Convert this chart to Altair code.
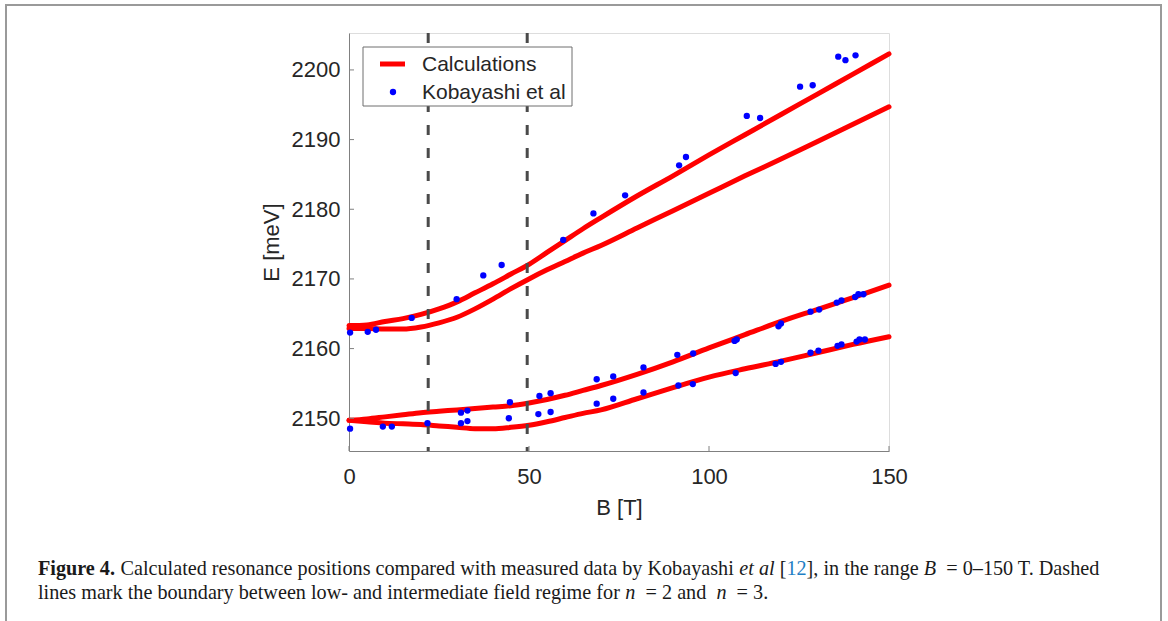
import altair as alt
import pandas as pd

# ---------------- data ----------------
B_GRID = [0, 5, 10, 15, 20, 25, 30, 35, 40, 45, 50, 55, 60, 65, 70, 80, 90, 100, 110, 120, 130, 140, 150]
CALC_N3_UPPER = [2163.3, 2163.4, 2163.9, 2164.3, 2164.9, 2165.7, 2166.7, 2168.0, 2169.3, 2170.7, 2172.1,
                 2173.8, 2175.5, 2177.2, 2178.8, 2181.9, 2184.8, 2187.8, 2190.7, 2193.6, 2196.5, 2199.4, 2202.3]
CALC_N3_LOWER = [2162.9, 2162.9, 2162.8, 2162.8, 2163.1, 2163.7, 2164.5, 2165.7, 2167.1, 2168.6, 2170.0,
                 2171.3, 2172.5, 2173.7, 2174.8, 2177.3, 2179.8, 2182.3, 2184.8, 2187.2, 2189.7, 2192.2, 2194.7]
CALC_N2_UPPER = [2149.7, 2149.9, 2150.2, 2150.5, 2150.8, 2151.0, 2151.2, 2151.4, 2151.6, 2151.8, 2152.2,
                 2152.7, 2153.3, 2154.0, 2154.7, 2156.3, 2158.1, 2160.1, 2162.0, 2163.9, 2165.6, 2167.3, 2169.1]
CALC_N2_LOWER = [2149.7, 2149.5, 2149.3, 2149.2, 2149.1, 2148.9, 2148.7, 2148.5, 2148.5, 2148.7, 2149.0,
                 2149.5, 2150.1, 2150.7, 2151.2, 2152.8, 2154.4, 2155.9, 2157.1, 2158.2, 2159.4, 2160.6, 2161.7]

KOB_B = [0.3, 5.2, 7.5, 17.4, 29.9, 37.3, 42.4, 59.5, 67.9, 76.7, 91.7, 93.6, 110.5, 114.2, 125.3, 128.8,
         135.9, 137.9, 140.7,
         0.3, 9.4, 11.9, 21.8, 31.1, 32.9, 31.1, 32.9, 44.7, 44.4, 52.9, 56.0, 52.6, 56.0, 68.8, 73.4, 68.8,
         73.4, 81.8, 81.8, 91.2, 95.6, 91.5, 95.5, 107.1, 107.7, 107.4, 119.3, 120.0, 118.5, 120.0, 128.2,
         130.6, 128.2, 130.4, 135.5, 136.8, 135.7, 136.8, 140.6, 141.5, 142.9, 141.0, 141.8, 143.3]
KOB_E = [2162.3, 2162.4, 2162.7, 2164.4, 2167.1, 2170.5, 2172.0, 2175.6, 2179.4, 2182.0, 2186.3, 2187.5,
         2193.4, 2193.1, 2197.6, 2197.8, 2201.9, 2201.4, 2202.1,
         2148.5, 2148.8, 2148.8, 2149.3, 2150.8, 2151.1, 2149.3, 2149.6, 2152.3, 2150.0, 2153.2, 2153.6,
         2150.6, 2150.9, 2155.6, 2156.0, 2152.1, 2152.8, 2157.3, 2153.7, 2159.1, 2159.3, 2154.7, 2154.9,
         2161.1, 2161.3, 2156.5, 2163.2, 2163.6, 2157.8, 2158.1, 2165.3, 2165.6, 2159.4, 2159.7, 2166.6,
         2166.9, 2160.4, 2160.6, 2167.4, 2167.8, 2167.8, 2161.0, 2161.3, 2161.3]

BOUNDARIES = [22, 49.5]
X_TICKS = [0, 50, 100, 150]
Y_TICKS = [2150, 2160, 2170, 2180, 2190, 2200]
SERIES = ["Calculations", "Kobayashi et al"]

CAPTION_LINE1 = [("Figure 4.", "bold"),
                 (" Calculated resonance positions compared with measured data by Kobayashi ", "normal"),
                 ("et al", "italic"), (" [", "normal"), ("12", "link"), ("], in the range ", "normal"),
                 ("B", "italic"), ("  =  0–150 T. Dashed", "normal")]
CAPTION_LINE2 = [("lines mark the boundary between low- and intermediate field regime for ", "normal"),
                 ("n", "italic"), ("  =  2 and ", "normal"), ("n", "italic"), ("  =  3.", "normal")]

# ---------------- layout helpers ----------------
W, H = 540, 418
LEFT, TOP = 349, 33
CAP_SIZE = 20.2
SERIF = "Liberation Serif"
SANS = "Liberation Sans"
TXT = "#262626"
RED, BLUE = "#ff0000", "#0000ff"

TR = {' ': 250, 'a': 444, 'b': 500, 'c': 444, 'd': 500, 'e': 444, 'f': 333, 'g': 500, 'h': 500, 'i': 278,
      'j': 278, 'k': 500, 'l': 278, 'm': 778, 'n': 500, 'o': 500, 'p': 500, 'q': 500, 'r': 333, 's': 389,
      't': 278, 'u': 500, 'v': 500, 'w': 722, 'x': 500, 'y': 500, 'z': 444, 'C': 667, 'K': 722, 'T': 611,
      'D': 722, 'B': 667, '[': 333, ']': 333, ',': 250, '.': 250, '-': 333, '=': 564, '–': 500}
TB = {'F': 611, 'i': 278, 'g': 500, 'u': 556, 'r': 444, 'e': 444, ' ': 250, '.': 250}
TI = {'e': 444, 't': 278, ' ': 250, 'a': 500, 'l': 278, 'B': 611, 'n': 500}


def seg_width(text, style):
    table = TB if style == "bold" else TI if style == "italic" else TR
    return sum(table.get(ch, 500) for ch in text) * CAP_SIZE / 1000.0


def px(x, y):
    """page pixel -> encoding relative to the plot origin"""
    return dict(x=alt.value(x - LEFT), y=alt.value(y - TOP))


# ---------------- chart data frames ----------------
curves = {"n3_upper": CALC_N3_UPPER, "n3_lower": CALC_N3_LOWER,
          "n2_upper": CALC_N2_UPPER, "n2_lower": CALC_N2_LOWER}
rows = []
for name, vals in curves.items():
    for b, e in zip(B_GRID, vals):
        rows.append({"B": b, "E": e, "curve": name})
calc_df = pd.DataFrame(rows)
kob_df = pd.DataFrame({"B": KOB_B, "E": KOB_E})

xscale = alt.Scale(domain=[0, 150], nice=False, zero=False)
yscale = alt.Scale(domain=[2145.3, 2205.3], nice=False, zero=False)

x_axis = alt.Axis(values=X_TICKS, ticks=False, grid=False, domainColor="#808080", labelFont=SANS,
                  labelFontSize=22, labelColor=TXT, labelPadding=15, labelFlush=False, title="B [T]",
                  titleFont=SANS, titleFontSize=22, titleFontWeight="normal", titleColor=TXT, titlePadding=10)
y_axis = alt.Axis(values=Y_TICKS, format="d", ticks=False, grid=False, domainColor="#808080",
                  labelFont=SANS, labelFontSize=22, labelColor=TXT, labelPadding=9, labelOverlap=False,
                  title="E [meV]", titleFont=SANS, titleFontSize=22, titleFontWeight="normal",
                  titleColor=TXT, titlePadding=8)

lines = alt.Chart(calc_df).mark_line(strokeWidth=5, strokeCap="round", interpolate="monotone",
                                     color=RED).encode(
    x=alt.X("B:Q", scale=xscale, axis=x_axis),
    y=alt.Y("E:Q", scale=yscale, axis=y_axis),
    detail="curve:N",
)

dashes = alt.Chart(pd.DataFrame({"B": BOUNDARIES})).mark_rule(
    strokeDash=[10, 13], strokeWidth=3, color="#4a4a4a").encode(x=alt.X("B:Q", scale=xscale))

points = alt.Chart(kob_df).mark_point(filled=True, size=40, opacity=1, color=BLUE).encode(
    x=alt.X("B:Q", scale=xscale), y=alt.Y("E:Q", scale=yscale))

xticks = alt.Chart(pd.DataFrame({"B": X_TICKS})).mark_rule(color="#808080", strokeWidth=1).encode(
    x=alt.X("B:Q", scale=xscale), y=alt.value(H), y2=alt.value(H - 5))
yticks = alt.Chart(pd.DataFrame({"E": Y_TICKS})).mark_rule(color="#808080", strokeWidth=1).encode(
    y=alt.Y("E:Q", scale=yscale), x=alt.value(0), x2=alt.value(5))

one = pd.DataFrame({"k": [0]})
border = alt.Chart(one).mark_rect(fill=None, stroke="#9a9a9a", strokeWidth=2).encode(
    x=alt.value(6 - LEFT), x2=alt.value(1161 - LEFT), y=alt.value(5 - TOP), y2=alt.value(640 - TOP))

# ---- legend (drawn as marks) ----
leg_box = alt.Chart(one).mark_rect(fill="white", stroke="#6e6e6e", strokeWidth=1).encode(
    x=alt.value(363 - LEFT), x2=alt.value(572 - LEFT), y=alt.value(47 - TOP), y2=alt.value(106 - TOP))
leg_line = alt.Chart(one).mark_rule(color=RED, strokeWidth=5).encode(
    x=alt.value(380 - LEFT), x2=alt.value(405 - LEFT), y=alt.value(64 - TOP))
leg_dot = alt.Chart(one).mark_point(filled=True, size=40, opacity=1, color=BLUE).encode(**px(393, 92))
leg_t1 = alt.Chart(pd.DataFrame({"t": [SERIES[0]]})).mark_text(
    font=SANS, fontSize=21, color=TXT, align="left", baseline="middle").encode(text="t:N", **px(422, 65))
leg_t2 = alt.Chart(pd.DataFrame({"t": [SERIES[1]]})).mark_text(
    font=SANS, fontSize=21, color=TXT, align="left", baseline="middle").encode(text="t:N", **px(422, 93))

STYLE = {"normal": dict(font=SERIF), "bold": dict(font=SERIF, fontWeight="bold"),
         "italic": dict(font=SERIF, fontStyle="italic"), "link": dict(font=SERIF, color="#1f7fc4")}
caption_layers = []
for line, base_y in ((CAPTION_LINE1, 575), (CAPTION_LINE2, 599)):
    x0 = 38
    for text, style in line:
        lead = len(text) - len(text.lstrip(" "))
        x0 += seg_width(" " * lead, style)
        body = text.strip(" ")
        opts = dict(fontSize=CAP_SIZE, align="left", baseline="alphabetic", color="#1a1a1a")
        opts.update(STYLE[style])
        caption_layers.append(
            alt.Chart(pd.DataFrame({"t": [body]})).mark_text(**opts).encode(text="t:N", **px(x0, base_y)))
        x0 += seg_width(text.lstrip(" "), style)

chart = alt.layer(border, lines, dashes, points, xticks, yticks,
                  leg_box, leg_line, leg_dot, leg_t1, leg_t2, *caption_layers).properties(
    width=W, height=H,
    autosize=alt.AutoSizeParams(type="none"),
    padding={"left": LEFT, "top": TOP, "right": 1168 - LEFT - W, "bottom": 621 - TOP - H},
).configure_view(stroke=None).configure(background="white")

chart.save("out.html", embed_options={"renderer": "svg", "actions": False})
